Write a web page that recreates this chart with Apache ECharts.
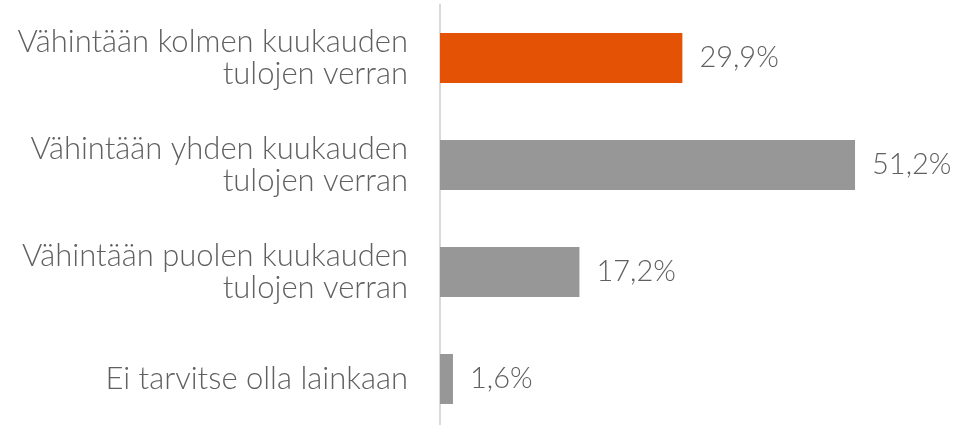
<!DOCTYPE html>
<html><head><meta charset="utf-8">
<script src="https://cdn.jsdelivr.net/npm/echarts@6/dist/echarts.min.js"></script>
<style>html,body{margin:0;padding:0;background:#fff;overflow:hidden}#c{width:953px;height:445px}</style>
</head><body><div id="c"></div>
<script>
const categories = [
  "Vähintään kolmen kuukauden\ntulojen verran",
  "Vähintään yhden kuukauden\ntulojen verran",
  "Vähintään puolen kuukauden\ntulojen verran",
  "Ei tarvitse olla lainkaan"
];
const values = [29.9, 51.2, 17.2, 1.6];
const barColors = ["#E35205", "#979797", "#979797", "#979797"];

const chart = echarts.init(document.getElementById('c'), null, {renderer: 'canvas'});
chart.setOption({
  animation: false,
  backgroundColor: '#fff',
  grid: {left: 440, top: 4.5, height: 428, right: 25, containLabel: false},
  xAxis: {type: 'value', min: 0, max: 60.2, show: false},
  yAxis: {
    type: 'category', inverse: true, data: categories,
    axisLine: {show: true, lineStyle: {color: '#D9D9D9', width: 2}},
    axisTick: {show: false},
    axisLabel: {margin: 32, color: '#606060', fontFamily: 'Lato', fontWeight: 300, fontSize: 31, lineHeight: 32, align: 'right'}
  },
  series: [{
    type: 'bar', barWidth: 50,
    data: values.map((v, i) => ({value: v, itemStyle: {color: barColors[i]}})),
    label: {
      show: true, position: 'right', distance: 17,
      color: '#606060', fontFamily: 'Lato', fontWeight: 300, fontSize: 29,
      formatter: p => p.value.toFixed(1).replace('.', ',') + '%'
    }
  }]
});
</script></body></html>
